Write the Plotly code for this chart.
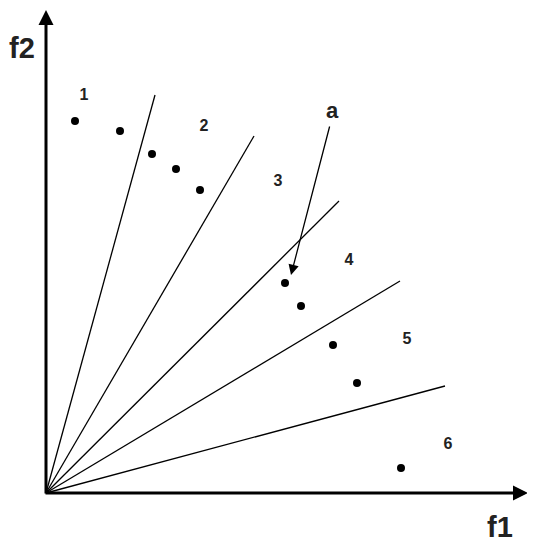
import plotly.graph_objects as go

# positions in f1/f2 units (origin at the axes corner)
pt_f1 = [29, 74, 106, 130, 154, 239, 255, 287, 311, 355]
pt_f2 = [372, 362, 339, 324, 303, 210, 187, 148, 110, 25]

ray_f1 = [109, 208, 293, 354, 399]
ray_f2 = [398, 357, 292, 212, 107]

region_labels = ["1", "2", "3", "4", "5", "6"]
label_f1 = [38, 158, 232, 303, 361, 402]
label_f2 = [397, 366, 311, 232, 153, 48]

W, H = 535, 550
ox, oy = 38, 485  # pixel position of origin inside the figure (page adds 8px margin)

fig = go.Figure()

for ex, ey in zip(ray_f1, ray_f2):
    fig.add_trace(go.Scatter(x=[0, ex], y=[0, ey], mode="lines",
                             line=dict(color="black", width=1.3),
                             hoverinfo="skip", showlegend=False))

fig.add_trace(go.Scatter(x=pt_f1, y=pt_f2, mode="markers",
                         marker=dict(color="black", size=8),
                         showlegend=False))

fig.add_trace(go.Scatter(x=label_f1, y=label_f2, mode="text",
                         text=["<b>%s</b>" % t for t in region_labels],
                         textfont=dict(family="Liberation Sans", size=16, color="#222"),
                         showlegend=False))

# axis arrows
fig.add_annotation(x=482, y=0, ax=-2, ay=0, xref="x", yref="y", axref="x", ayref="y",
                   showarrow=True, arrowhead=2, arrowsize=1, arrowwidth=3, arrowcolor="black", text="")
fig.add_annotation(x=0, y=483, ax=0, ay=-2, xref="x", yref="y", axref="x", ayref="y",
                   showarrow=True, arrowhead=2, arrowsize=1, arrowwidth=3, arrowcolor="black", text="")

# pointer "a"
fig.add_annotation(x=245, y=218, ax=284, ay=368, xref="x", yref="y", axref="x", ayref="y",
                   showarrow=True, arrowhead=2, arrowsize=1.6, arrowwidth=1.3, arrowcolor="black", text="")
fig.add_annotation(x=286, y=383, xref="x", yref="y", text="<b>a</b>", showarrow=False,
                   font=dict(family="Liberation Sans", size=22, color="#222"))

fig.add_annotation(x=-24, y=445, xref="x", yref="y", text="<b>f2</b>", showarrow=False,
                   font=dict(family="Liberation Sans", size=29, color="#222"))
fig.add_annotation(x=454, y=-34, xref="x", yref="y", text="<b>f1</b>", showarrow=False,
                   font=dict(family="Liberation Sans", size=29, color="#222"))

fig.update_xaxes(range=[-ox, W - ox], visible=False)
fig.update_yaxes(range=[oy - H, oy], visible=False)
fig.update_layout(width=W, height=H, margin=dict(l=0, r=0, t=0, b=0),
                  plot_bgcolor="white", paper_bgcolor="white")

fig.write_html("out.html")
